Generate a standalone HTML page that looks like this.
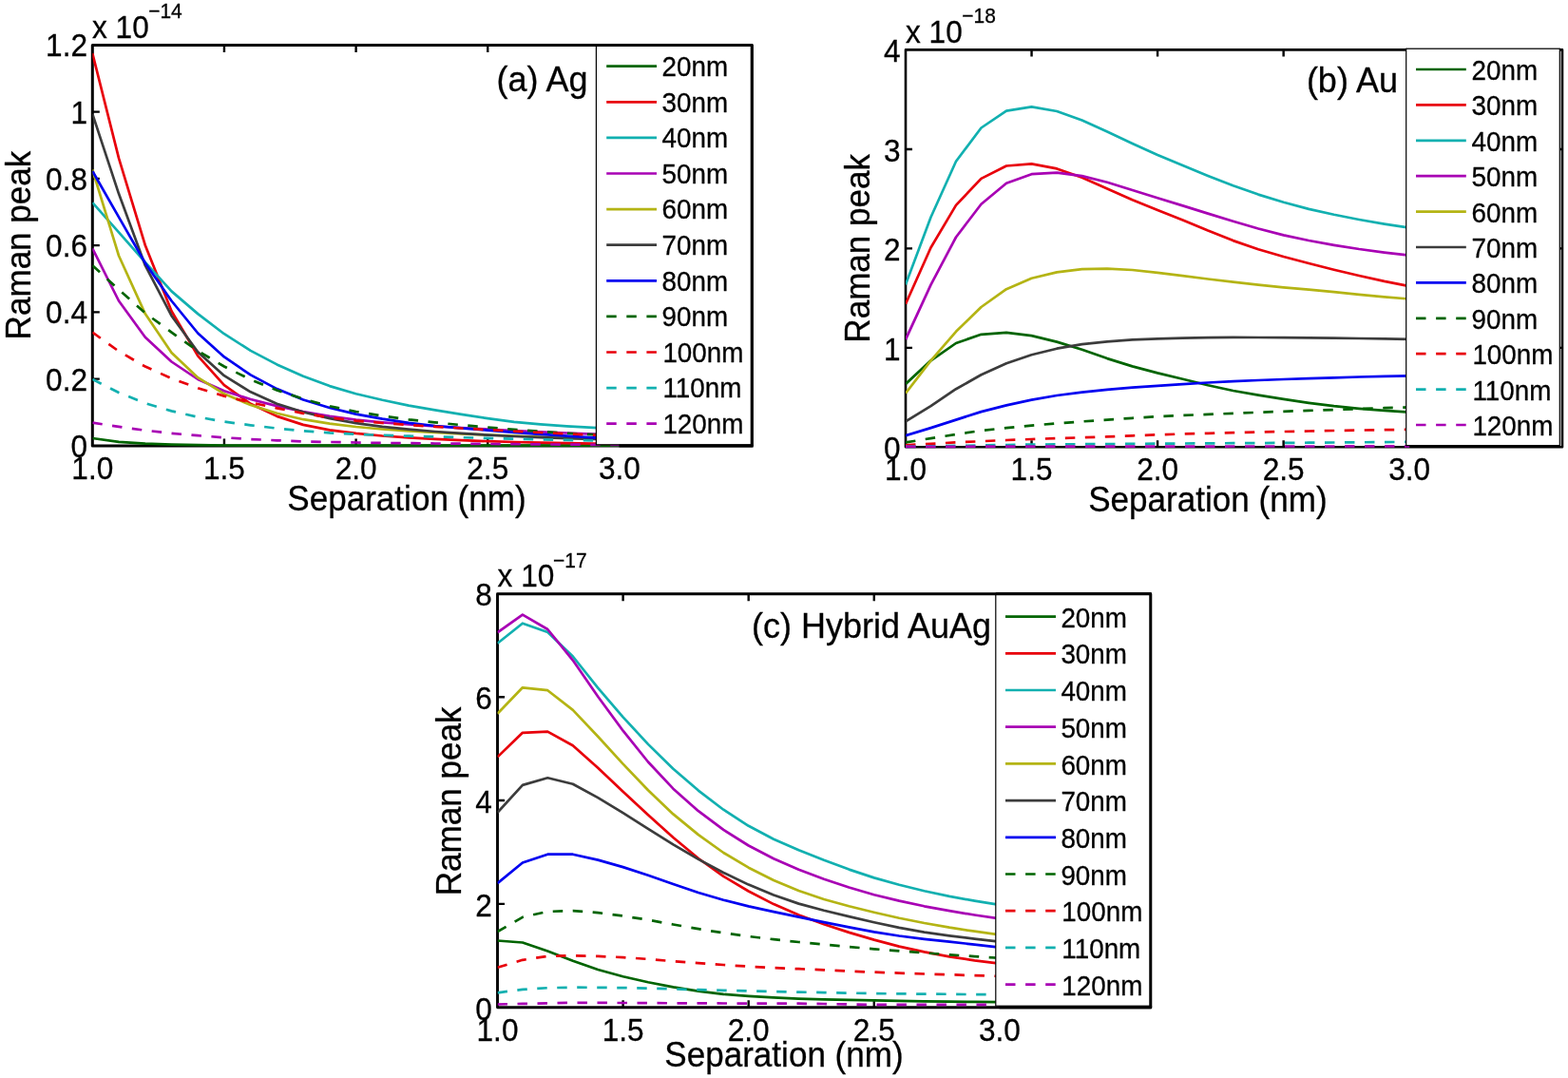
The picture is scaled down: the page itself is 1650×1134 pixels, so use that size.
<!DOCTYPE html>
<html lang="en">
<head>
<meta charset="utf-8">
<title>Raman peak vs separation</title>
<style>
html,body{margin:0;padding:0;background:#fff;}
body{width:1650px;height:1134px;overflow:hidden;}
svg{display:block;}
svg text{font-family:"Liberation Sans","DejaVu Sans",sans-serif;fill:#000;stroke:#000;stroke-width:0.3px;}
</style>
</head>
<body>
<svg width="1650" height="1134" viewBox="0 0 1650 1134">
<rect width="1650" height="1134" fill="#fff"/>
<clipPath id="clipa"><rect x="97.3" y="45.4" width="693.9000000000001" height="425.5"/></clipPath>
<rect x="97.3" y="47.4" width="693.90" height="421.50" fill="#fff" stroke="#000" stroke-width="3.0" stroke-linejoin="round"/>
<path d="M235.95 468.9v-7.5M235.95 47.4v7.5" stroke="#000" stroke-width="2.4" fill="none"/>
<path d="M374.60 468.9v-7.5M374.60 47.4v7.5" stroke="#000" stroke-width="2.4" fill="none"/>
<path d="M513.25 468.9v-7.5M513.25 47.4v7.5" stroke="#000" stroke-width="2.4" fill="none"/>
<path d="M651.90 468.9v-7.5M651.90 47.4v7.5" stroke="#000" stroke-width="2.4" fill="none"/>
<path d="M97.3 398.65h7.5M791.2 398.65h-7.5" stroke="#000" stroke-width="2.4" fill="none"/>
<path d="M97.3 328.40h7.5M791.2 328.40h-7.5" stroke="#000" stroke-width="2.4" fill="none"/>
<path d="M97.3 258.15h7.5M791.2 258.15h-7.5" stroke="#000" stroke-width="2.4" fill="none"/>
<path d="M97.3 187.90h7.5M791.2 187.90h-7.5" stroke="#000" stroke-width="2.4" fill="none"/>
<path d="M97.3 117.65h7.5M791.2 117.65h-7.5" stroke="#000" stroke-width="2.4" fill="none"/>
<g clip-path="url(#clipa)" fill="none" stroke-width="2.7" stroke-linejoin="round">
<polyline points="97.3,461.0 125.0,464.8 152.8,466.7 180.5,467.7 208.2,468.2 235.9,468.5 263.7,468.6 291.4,468.7 319.1,468.7 346.9,468.7 374.6,468.7 402.3,468.7 430.1,468.7 457.8,468.7 485.5,468.7 513.2,468.7 541.0,468.7 568.7,468.7 596.4,468.7 624.2,468.7 651.9,468.7" stroke="#006400"/>
<polyline points="97.3,56.1 125.0,166.4 152.8,258.0 180.5,327.3 208.2,374.3 235.9,405.1 263.7,424.8 291.4,437.9 319.1,446.9 346.9,452.3 374.6,455.9 402.3,458.5 430.1,460.4 457.8,461.9 485.5,463.2 513.2,464.2 541.0,465.0 568.7,465.6 596.4,466.2 624.2,466.7 651.9,467.0" stroke="#e8000b"/>
<polyline points="97.3,213.1 125.0,244.4 152.8,275.8 180.5,306.4 208.2,330.1 235.9,351.2 263.7,368.9 291.4,383.4 319.1,395.8 346.9,406.1 374.6,414.2 402.3,420.8 430.1,426.6 457.8,431.3 485.5,435.9 513.2,440.2 541.0,443.9 568.7,446.4 596.4,448.3 624.2,449.9 651.9,451.2" stroke="#12b0b0"/>
<polyline points="97.3,261.4 125.0,316.5 152.8,354.7 180.5,380.5 208.2,399.0 235.9,411.2 263.7,420.0 291.4,427.1 319.1,433.0 346.9,437.9 374.6,441.6 402.3,444.3 430.1,446.5 457.8,448.3 485.5,450.0 513.2,451.5 541.0,453.0 568.7,454.3 596.4,455.5 624.2,456.6 651.9,457.5" stroke="#a800b4"/>
<polyline points="97.3,178.5 125.0,269.0 152.8,330.1 180.5,371.0 208.2,397.2 235.9,414.3 263.7,426.0 291.4,434.8 319.1,441.2 346.9,445.7 374.6,449.0 402.3,451.5 430.1,453.4 457.8,455.0 485.5,456.3 513.2,457.5 541.0,458.5 568.7,459.5 596.4,460.3 624.2,461.0 651.9,461.6" stroke="#b4b414"/>
<polyline points="97.3,119.8 125.0,203.8 152.8,279.2 180.5,332.2 208.2,370.3 235.9,395.2 263.7,412.3 291.4,424.7 319.1,433.5 346.9,440.1 374.6,445.1 402.3,448.9 430.1,451.7 457.8,454.0 485.5,455.9 513.2,457.6 541.0,459.0 568.7,460.2 596.4,461.2 624.2,462.0 651.9,462.7" stroke="#3c3c3c"/>
<polyline points="97.3,180.0 125.0,228.4 152.8,276.7 180.5,316.5 208.2,350.5 235.9,375.4 263.7,394.4 291.4,409.1 319.1,420.5 346.9,429.0 374.6,435.6 402.3,440.7 430.1,444.9 457.8,448.0 485.5,450.4 513.2,452.7 541.0,454.8 568.7,456.8 596.4,458.7 624.2,460.3 651.9,461.6" stroke="#0000f0"/>
<polyline points="97.3,279.2 125.0,304.7 152.8,329.3 180.5,349.6 208.2,369.1 235.9,385.5 263.7,399.3 291.4,410.5 319.1,419.7 346.9,427.2 374.6,433.0 402.3,437.5 430.1,441.3 457.8,444.4 485.5,447.1 513.2,449.5 541.0,451.8 568.7,453.9 596.4,455.7 624.2,457.2 651.9,458.5" stroke="#006400" stroke-dasharray="10.5 10.5"/>
<polyline points="97.3,349.6 125.0,369.5 152.8,385.6 180.5,398.0 208.2,408.2 235.9,416.6 263.7,423.4 291.4,429.4 319.1,434.8 346.9,439.3 374.6,442.6 402.3,445.0 430.1,447.1 457.8,448.8 485.5,450.5 513.2,452.1 541.0,453.6 568.7,455.0 596.4,456.4 624.2,457.7 651.9,458.9" stroke="#e8000b" stroke-dasharray="10.5 10.5"/>
<polyline points="97.3,399.0 125.0,413.0 152.8,424.1 180.5,432.4 208.2,438.7 235.9,443.6 263.7,447.3 291.4,450.6 319.1,453.3 346.9,455.4 374.6,456.8 402.3,457.8 430.1,458.7 457.8,459.4 485.5,460.2 513.2,460.9 541.0,461.7 568.7,462.3 596.4,462.9 624.2,463.5 651.9,464.0" stroke="#12b0b0" stroke-dasharray="10.5 10.5"/>
<polyline points="97.3,444.6 125.0,448.9 152.8,452.7 180.5,455.9 208.2,458.2 235.9,460.3 263.7,462.0 291.4,463.3 319.1,464.4 346.9,465.0 374.6,465.5 402.3,465.9 430.1,466.2 457.8,466.5 485.5,466.7 513.2,467.0 541.0,467.2 568.7,467.4 596.4,467.6 624.2,467.8 651.9,468.0" stroke="#a800b4" stroke-dasharray="10.5 10.5"/>
</g>
<rect x="627.4" y="47.4" width="163.80" height="420.40" fill="#fff" stroke="#000" stroke-width="1.2"/>
<path d="M627.4 47.4H791.2V468.9" stroke="#000" stroke-width="3.0" fill="none" stroke-linejoin="round"/>
<path d="M653 468.9H791.2" stroke="#000" stroke-width="3.0" fill="none" stroke-linecap="square"/>
<path d="M638.2 69.70H691" stroke="#006400" stroke-width="2.7" fill="none"/>
<text transform="translate(696.50 79.90) scale(0.9400 1)" font-size="29.6">20nm</text>
<path d="M638.2 107.30H691" stroke="#e8000b" stroke-width="2.7" fill="none"/>
<text transform="translate(696.50 117.50) scale(0.9400 1)" font-size="29.6">30nm</text>
<path d="M638.2 144.90H691" stroke="#12b0b0" stroke-width="2.7" fill="none"/>
<text transform="translate(696.50 155.10) scale(0.9400 1)" font-size="29.6">40nm</text>
<path d="M638.2 182.50H691" stroke="#a800b4" stroke-width="2.7" fill="none"/>
<text transform="translate(696.50 192.70) scale(0.9400 1)" font-size="29.6">50nm</text>
<path d="M638.2 220.10H691" stroke="#b4b414" stroke-width="2.7" fill="none"/>
<text transform="translate(696.50 230.30) scale(0.9400 1)" font-size="29.6">60nm</text>
<path d="M638.2 257.70H691" stroke="#3c3c3c" stroke-width="2.7" fill="none"/>
<text transform="translate(696.50 267.90) scale(0.9400 1)" font-size="29.6">70nm</text>
<path d="M638.2 295.30H691" stroke="#0000f0" stroke-width="2.7" fill="none"/>
<text transform="translate(696.50 305.50) scale(0.9400 1)" font-size="29.6">80nm</text>
<path d="M638.2 332.90H691" stroke="#006400" stroke-width="2.7" stroke-dasharray="10.5 10.6" fill="none"/>
<text transform="translate(696.50 343.10) scale(0.9400 1)" font-size="29.6">90nm</text>
<path d="M638.2 370.50H691" stroke="#e8000b" stroke-width="2.7" stroke-dasharray="10.5 10.6" fill="none"/>
<text transform="translate(697.40 380.70) scale(0.9400 1)" font-size="29.6">100nm</text>
<path d="M638.2 408.10H691" stroke="#12b0b0" stroke-width="2.7" stroke-dasharray="10.5 10.6" fill="none"/>
<text transform="translate(697.40 418.30) scale(0.9400 1)" font-size="29.6">110nm</text>
<path d="M638.2 445.70H691" stroke="#a800b4" stroke-width="2.7" stroke-dasharray="10.5 10.6" fill="none"/>
<text transform="translate(697.40 455.90) scale(0.9400 1)" font-size="29.6">120nm</text>
<text transform="translate(97.30 504.30) scale(0.9350 1)" font-size="33.8" text-anchor="middle">1.0</text>
<text transform="translate(235.95 504.30) scale(0.9350 1)" font-size="33.8" text-anchor="middle">1.5</text>
<text transform="translate(374.60 504.30) scale(0.9350 1)" font-size="33.8" text-anchor="middle">2.0</text>
<text transform="translate(513.25 504.30) scale(0.9350 1)" font-size="33.8" text-anchor="middle">2.5</text>
<text transform="translate(651.90 504.30) scale(0.9350 1)" font-size="33.8" text-anchor="middle">3.0</text>
<text transform="translate(92.00 480.90) scale(0.9350 1)" font-size="33.8" text-anchor="end">0</text>
<text transform="translate(92.00 410.65) scale(0.9350 1)" font-size="33.8" text-anchor="end">0.2</text>
<text transform="translate(92.00 340.40) scale(0.9350 1)" font-size="33.8" text-anchor="end">0.4</text>
<text transform="translate(92.00 270.15) scale(0.9350 1)" font-size="33.8" text-anchor="end">0.6</text>
<text transform="translate(92.00 199.90) scale(0.9350 1)" font-size="33.8" text-anchor="end">0.8</text>
<text transform="translate(92.00 129.65) scale(0.9350 1)" font-size="33.8" text-anchor="end">1</text>
<text transform="translate(92.00 59.40) scale(0.9350 1)" font-size="33.8" text-anchor="end">1.2</text>
<text transform="translate(97.00 39.50) scale(0.9350 1)" font-size="33.8">x 10</text>
<text transform="translate(156.20 19.40) scale(0.9400 1)" font-size="22.3">−14</text>
<text transform="translate(428.00 537.30) scale(0.9400 1)" font-size="37.3" text-anchor="middle">Separation (nm)</text>
<text transform="translate(32.30 258.00) rotate(-90) scale(0.9580 1)" font-size="36.6" text-anchor="middle">Raman peak</text>
<text transform="translate(618.50 96.00) scale(0.9650 1)" font-size="37.3" text-anchor="end">(a) Ag</text>
<clipPath id="clipb"><rect x="953.0" y="50.4" width="691.0" height="421.90000000000003"/></clipPath>
<rect x="953.0" y="52.4" width="691.00" height="417.90" fill="#fff" stroke="#000" stroke-width="2.6" stroke-linejoin="round"/>
<path d="M1085.55 470.3v-7.0M1085.55 52.4v7.0" stroke="#000" stroke-width="2.4" fill="none"/>
<path d="M1218.10 470.3v-7.0M1218.10 52.4v7.0" stroke="#000" stroke-width="2.4" fill="none"/>
<path d="M1350.65 470.3v-7.0M1350.65 52.4v7.0" stroke="#000" stroke-width="2.4" fill="none"/>
<path d="M1483.20 470.3v-7.0M1483.20 52.4v7.0" stroke="#000" stroke-width="2.4" fill="none"/>
<path d="M953.0 365.85h7.0M1644.0 365.85h-7.0" stroke="#000" stroke-width="2.4" fill="none"/>
<path d="M953.0 261.40h7.0M1644.0 261.40h-7.0" stroke="#000" stroke-width="2.4" fill="none"/>
<path d="M953.0 156.95h7.0M1644.0 156.95h-7.0" stroke="#000" stroke-width="2.4" fill="none"/>
<g clip-path="url(#clipb)" fill="none" stroke-width="2.7" stroke-linejoin="round">
<polyline points="953.0,403.9 979.5,379.3 1006.0,361.0 1032.5,351.8 1059.0,349.8 1085.5,353.1 1112.1,359.6 1138.6,367.8 1165.1,377.1 1191.6,385.4 1218.1,392.4 1244.6,398.7 1271.1,405.2 1297.6,411.0 1324.1,415.7 1350.7,419.9 1377.2,423.8 1403.7,427.2 1430.2,429.8 1456.7,431.9 1483.2,433.7" stroke="#006400"/>
<polyline points="953.0,319.7 979.5,260.5 1006.0,215.9 1032.5,187.9 1059.0,174.5 1085.5,172.4 1112.1,177.4 1138.6,186.8 1165.1,198.5 1191.6,210.2 1218.1,220.9 1244.6,231.4 1271.1,242.6 1297.6,253.1 1324.1,262.2 1350.7,270.0 1377.2,277.0 1403.7,283.7 1430.2,290.0 1456.7,295.9 1483.2,301.1" stroke="#e8000b"/>
<polyline points="953.0,299.4 979.5,228.5 1006.0,169.8 1032.5,134.5 1059.0,116.6 1085.5,112.4 1112.1,117.0 1138.6,126.5 1165.1,138.4 1191.6,151.0 1218.1,162.9 1244.6,174.1 1271.1,184.9 1297.6,195.2 1324.1,204.6 1350.7,212.8 1377.2,219.9 1403.7,225.8 1430.2,231.0 1456.7,235.6 1483.2,239.6" stroke="#12b0b0"/>
<polyline points="953.0,357.1 979.5,299.6 1006.0,249.5 1032.5,214.7 1059.0,192.7 1085.5,183.2 1112.1,181.7 1138.6,185.1 1165.1,191.8 1191.6,200.0 1218.1,208.3 1244.6,216.4 1271.1,224.6 1297.6,232.8 1324.1,240.5 1350.7,247.4 1377.2,253.0 1403.7,257.8 1430.2,262.0 1456.7,265.6 1483.2,268.7" stroke="#a800b4"/>
<polyline points="953.0,413.6 979.5,379.3 1006.0,348.8 1032.5,323.0 1059.0,304.2 1085.5,292.7 1112.1,286.4 1138.6,283.2 1165.1,282.7 1191.6,284.0 1218.1,286.9 1244.6,290.2 1271.1,293.5 1297.6,296.6 1324.1,299.7 1350.7,302.3 1377.2,304.6 1403.7,307.1 1430.2,309.8 1456.7,312.3 1483.2,314.5" stroke="#b4b414"/>
<polyline points="953.0,443.3 979.5,427.2 1006.0,409.2 1032.5,394.3 1059.0,382.2 1085.5,373.2 1112.1,366.7 1138.6,362.2 1165.1,359.3 1191.6,357.4 1218.1,356.4 1244.6,355.7 1271.1,355.2 1297.6,354.9 1324.1,355.0 1350.7,355.2 1377.2,355.4 1403.7,355.7 1430.2,356.0 1456.7,356.4 1483.2,356.9" stroke="#3c3c3c"/>
<polyline points="953.0,458.1 979.5,450.1 1006.0,441.6 1032.5,433.1 1059.0,426.4 1085.5,420.6 1112.1,416.0 1138.6,412.6 1165.1,409.9 1191.6,407.6 1218.1,405.8 1244.6,404.1 1271.1,402.5 1297.6,401.2 1324.1,400.0 1350.7,399.0 1377.2,398.1 1403.7,397.3 1430.2,396.5 1456.7,395.9 1483.2,395.3" stroke="#0000f0"/>
<polyline points="953.0,465.4 979.5,461.1 1006.0,456.9 1032.5,453.0 1059.0,450.1 1085.5,447.6 1112.1,445.4 1138.6,443.4 1165.1,441.6 1191.6,439.8 1218.1,438.2 1244.6,436.9 1271.1,435.9 1297.6,434.8 1324.1,433.8 1350.7,432.8 1377.2,431.9 1403.7,431.0 1430.2,430.1 1456.7,429.2 1483.2,428.4" stroke="#006400" stroke-dasharray="10.5 10.5"/>
<polyline points="953.0,468.3 979.5,466.8 1006.0,465.4 1032.5,464.2 1059.0,463.0 1085.5,462.0 1112.1,461.1 1138.6,460.3 1165.1,459.4 1191.6,458.3 1218.1,457.3 1244.6,456.5 1271.1,455.8 1297.6,455.2 1324.1,454.6 1350.7,454.0 1377.2,453.5 1403.7,453.0 1430.2,452.6 1456.7,452.2 1483.2,451.8" stroke="#e8000b" stroke-dasharray="10.5 10.5"/>
<polyline points="953.0,469.8 979.5,469.4 1006.0,468.9 1032.5,468.5 1059.0,468.0 1085.5,467.6 1112.1,467.4 1138.6,467.2 1165.1,467.1 1191.6,466.9 1218.1,466.7 1244.6,466.5 1271.1,466.4 1297.6,466.2 1324.1,466.1 1350.7,465.9 1377.2,465.7 1403.7,465.5 1430.2,465.3 1456.7,465.1 1483.2,464.9" stroke="#12b0b0" stroke-dasharray="10.5 10.5"/>
<polyline points="953.0,469.8 979.5,469.8 1006.0,469.8 1032.5,469.7 1059.0,469.7 1085.5,469.7 1112.1,469.7 1138.6,469.7 1165.1,469.6 1191.6,469.6 1218.1,469.6 1244.6,469.6 1271.1,469.6 1297.6,469.5 1324.1,469.5 1350.7,469.5 1377.2,469.5 1403.7,469.5 1430.2,469.4 1456.7,469.4 1483.2,469.4" stroke="#a800b4" stroke-dasharray="10.5 10.5"/>
</g>
<rect x="1479.7" y="51.2" width="161.60" height="417.40" fill="#fff" stroke="#000" stroke-width="1.2"/>
<path d="M1490 73.00H1542.8" stroke="#006400" stroke-width="2.7" fill="none"/>
<text transform="translate(1548.50 84.00) scale(0.9400 1)" font-size="29.6">20nm</text>
<path d="M1490 110.40H1542.8" stroke="#e8000b" stroke-width="2.7" fill="none"/>
<text transform="translate(1548.50 121.40) scale(0.9400 1)" font-size="29.6">30nm</text>
<path d="M1490 147.80H1542.8" stroke="#12b0b0" stroke-width="2.7" fill="none"/>
<text transform="translate(1548.50 158.80) scale(0.9400 1)" font-size="29.6">40nm</text>
<path d="M1490 185.20H1542.8" stroke="#a800b4" stroke-width="2.7" fill="none"/>
<text transform="translate(1548.50 196.20) scale(0.9400 1)" font-size="29.6">50nm</text>
<path d="M1490 222.60H1542.8" stroke="#b4b414" stroke-width="2.7" fill="none"/>
<text transform="translate(1548.50 233.60) scale(0.9400 1)" font-size="29.6">60nm</text>
<path d="M1490 260.00H1542.8" stroke="#3c3c3c" stroke-width="2.7" fill="none"/>
<text transform="translate(1548.50 271.00) scale(0.9400 1)" font-size="29.6">70nm</text>
<path d="M1490 297.40H1542.8" stroke="#0000f0" stroke-width="2.7" fill="none"/>
<text transform="translate(1548.50 308.40) scale(0.9400 1)" font-size="29.6">80nm</text>
<path d="M1490 334.80H1542.8" stroke="#006400" stroke-width="2.7" stroke-dasharray="10.5 10.6" fill="none"/>
<text transform="translate(1548.50 345.80) scale(0.9400 1)" font-size="29.6">90nm</text>
<path d="M1490 372.20H1542.8" stroke="#e8000b" stroke-width="2.7" stroke-dasharray="10.5 10.6" fill="none"/>
<text transform="translate(1549.40 383.20) scale(0.9400 1)" font-size="29.6">100nm</text>
<path d="M1490 409.60H1542.8" stroke="#12b0b0" stroke-width="2.7" stroke-dasharray="10.5 10.6" fill="none"/>
<text transform="translate(1549.40 420.60) scale(0.9400 1)" font-size="29.6">110nm</text>
<path d="M1490 447.00H1542.8" stroke="#a800b4" stroke-width="2.7" stroke-dasharray="10.5 10.6" fill="none"/>
<text transform="translate(1549.40 458.00) scale(0.9400 1)" font-size="29.6">120nm</text>
<text transform="translate(953.00 505.20) scale(0.9350 1)" font-size="33.8" text-anchor="middle">1.0</text>
<text transform="translate(1085.55 505.20) scale(0.9350 1)" font-size="33.8" text-anchor="middle">1.5</text>
<text transform="translate(1218.10 505.20) scale(0.9350 1)" font-size="33.8" text-anchor="middle">2.0</text>
<text transform="translate(1350.65 505.20) scale(0.9350 1)" font-size="33.8" text-anchor="middle">2.5</text>
<text transform="translate(1483.20 505.20) scale(0.9350 1)" font-size="33.8" text-anchor="middle">3.0</text>
<text transform="translate(947.70 483.10) scale(0.9350 1)" font-size="33.8" text-anchor="end">0</text>
<text transform="translate(947.70 378.65) scale(0.9350 1)" font-size="33.8" text-anchor="end">1</text>
<text transform="translate(947.70 274.20) scale(0.9350 1)" font-size="33.8" text-anchor="end">2</text>
<text transform="translate(947.70 169.75) scale(0.9350 1)" font-size="33.8" text-anchor="end">3</text>
<text transform="translate(947.70 65.30) scale(0.9350 1)" font-size="33.8" text-anchor="end">4</text>
<text transform="translate(953.00 45.20) scale(0.9350 1)" font-size="33.8">x 10</text>
<text transform="translate(1012.30 24.20) scale(0.9400 1)" font-size="22.3">−18</text>
<text transform="translate(1270.90 537.50) scale(0.9400 1)" font-size="37.3" text-anchor="middle">Separation (nm)</text>
<text transform="translate(915.00 261.30) rotate(-90) scale(0.9580 1)" font-size="36.6" text-anchor="middle">Raman peak</text>
<text transform="translate(1470.90 96.60) scale(0.9650 1)" font-size="37.3" text-anchor="end">(b) Au</text>
<clipPath id="clipc"><rect x="523.5" y="622.8" width="687.2" height="438.9000000000001"/></clipPath>
<rect x="523.5" y="624.8" width="687.20" height="434.90" fill="#fff" stroke="#000" stroke-width="2.9" stroke-linejoin="round"/>
<path d="M655.60 1059.7v-7.5M655.60 624.8v7.5" stroke="#000" stroke-width="2.4" fill="none"/>
<path d="M787.70 1059.7v-7.5M787.70 624.8v7.5" stroke="#000" stroke-width="2.4" fill="none"/>
<path d="M919.80 1059.7v-7.5M919.80 624.8v7.5" stroke="#000" stroke-width="2.4" fill="none"/>
<path d="M1051.90 1059.7v-7.5M1051.90 624.8v7.5" stroke="#000" stroke-width="2.4" fill="none"/>
<path d="M523.5 950.86h7.5M1210.7 950.86h-7.5" stroke="#000" stroke-width="2.4" fill="none"/>
<path d="M523.5 842.02h7.5M1210.7 842.02h-7.5" stroke="#000" stroke-width="2.4" fill="none"/>
<path d="M523.5 733.18h7.5M1210.7 733.18h-7.5" stroke="#000" stroke-width="2.4" fill="none"/>
<g clip-path="url(#clipc)" fill="none" stroke-width="2.7" stroke-linejoin="round">
<polyline points="523.5,989.5 549.9,991.5 576.3,1000.5 602.8,1010.7 629.2,1020.0 655.6,1027.2 682.0,1033.2 708.4,1038.4 734.9,1042.6 761.3,1045.8 787.7,1047.8 814.1,1049.4 840.5,1050.6 867.0,1051.3 893.4,1051.9 919.8,1052.4 946.2,1052.9 972.6,1053.3 999.1,1053.6 1025.5,1053.9 1051.9,1054.2" stroke="#006400"/>
<polyline points="523.5,796.3 549.9,770.8 576.3,769.6 602.8,784.3 629.2,807.8 655.6,832.8 682.0,857.2 708.4,881.0 734.9,903.0 761.3,921.8 787.7,937.5 814.1,951.1 840.5,962.6 867.0,972.3 893.4,980.9 919.8,988.6 946.2,995.6 972.6,1001.4 999.1,1006.3 1025.5,1010.3 1051.9,1013.7" stroke="#e8000b"/>
<polyline points="523.5,676.8 549.9,655.7 576.3,665.0 602.8,690.5 629.2,723.6 655.6,754.3 682.0,782.9 708.4,808.7 734.9,831.6 761.3,851.7 787.7,868.8 814.1,882.7 840.5,894.2 867.0,904.8 893.4,914.6 919.8,923.4 946.2,930.8 972.6,937.3 999.1,942.9 1025.5,947.7 1051.9,951.9" stroke="#12b0b0"/>
<polyline points="523.5,665.3 549.9,646.7 576.3,662.0 602.8,694.6 629.2,732.8 655.6,768.7 682.0,801.5 708.4,829.7 734.9,853.2 761.3,872.9 787.7,889.5 814.1,903.3 840.5,914.8 867.0,924.7 893.4,933.5 919.8,941.2 946.2,947.6 972.6,953.3 999.1,958.2 1025.5,962.5 1051.9,966.3" stroke="#a800b4"/>
<polyline points="523.5,750.8 549.9,723.3 576.3,726.2 602.8,746.9 629.2,774.7 655.6,803.6 682.0,831.2 708.4,856.4 734.9,878.1 761.3,897.0 787.7,912.7 814.1,926.0 840.5,937.0 867.0,946.0 893.4,953.2 919.8,959.7 946.2,965.7 972.6,971.0 999.1,975.7 1025.5,979.7 1051.9,983.3" stroke="#b4b414"/>
<polyline points="523.5,854.8 549.9,825.9 576.3,818.3 602.8,824.7 629.2,839.1 655.6,855.2 682.0,871.8 708.4,888.3 734.9,903.9 761.3,918.0 787.7,930.6 814.1,941.5 840.5,950.6 867.0,957.8 893.4,964.1 919.8,970.2 946.2,975.9 972.6,980.6 999.1,984.3 1025.5,987.6 1051.9,990.7" stroke="#3c3c3c"/>
<polyline points="523.5,929.2 549.9,907.5 576.3,898.7 602.8,898.7 629.2,904.6 655.6,912.1 682.0,920.8 708.4,930.0 734.9,939.0 761.3,946.8 787.7,953.4 814.1,959.1 840.5,964.6 867.0,970.1 893.4,975.4 919.8,980.4 946.2,984.5 972.6,987.8 999.1,990.6 1025.5,993.6 1051.9,996.6" stroke="#0000f0"/>
<polyline points="523.5,980.1 549.9,964.8 576.3,958.9 602.8,958.1 629.2,960.1 655.6,963.5 682.0,967.7 708.4,972.5 734.9,977.2 761.3,981.4 787.7,985.0 814.1,988.2 840.5,991.0 867.0,993.6 893.4,996.0 919.8,998.3 946.2,1000.4 972.6,1002.4 999.1,1004.3 1025.5,1006.1 1051.9,1007.8" stroke="#006400" stroke-dasharray="10.5 10.5"/>
<polyline points="523.5,1017.8 549.9,1009.8 576.3,1005.9 602.8,1005.2 629.2,1005.9 655.6,1007.1 682.0,1008.9 708.4,1011.2 734.9,1013.1 761.3,1015.0 787.7,1016.7 814.1,1018.1 840.5,1019.2 867.0,1020.4 893.4,1021.6 919.8,1022.7 946.2,1023.6 972.6,1024.5 999.1,1025.3 1025.5,1026.1 1051.9,1026.9" stroke="#e8000b" stroke-dasharray="10.5 10.5"/>
<polyline points="523.5,1044.3 549.9,1040.9 576.3,1039.2 602.8,1038.7 629.2,1038.8 655.6,1039.1 682.0,1039.7 708.4,1040.4 734.9,1041.1 761.3,1041.8 787.7,1042.5 814.1,1043.1 840.5,1043.6 867.0,1044.1 893.4,1044.6 919.8,1045.1 946.2,1045.4 972.6,1045.6 999.1,1045.8 1025.5,1046.1 1051.9,1046.3" stroke="#12b0b0" stroke-dasharray="10.5 10.5"/>
<polyline points="523.5,1056.5 549.9,1055.9 576.3,1055.4 602.8,1054.8 629.2,1054.9 655.6,1055.0 682.0,1055.1 708.4,1055.3 734.9,1055.4 761.3,1055.5 787.7,1055.6 814.1,1055.7 840.5,1055.7 867.0,1056.0 893.4,1056.5 919.8,1056.9 946.2,1056.8 972.6,1056.9 999.1,1056.9 1025.5,1056.9 1051.9,1056.9" stroke="#a800b4" stroke-dasharray="10.5 10.5"/>
</g>
<rect x="1047.8" y="624.8" width="162.90" height="433.40" fill="#fff" stroke="#000" stroke-width="1.2"/>
<path d="M1047.8 624.8H1210.7V1059.7" stroke="#000" stroke-width="2.9" fill="none" stroke-linejoin="round"/>
<path d="M1053 1059.7H1210.7" stroke="#000" stroke-width="2.9" fill="none" stroke-linecap="square"/>
<path d="M1058 648.60H1111" stroke="#006400" stroke-width="2.7" fill="none"/>
<text transform="translate(1116.40 659.70) scale(0.9400 1)" font-size="29.6">20nm</text>
<path d="M1058 687.30H1111" stroke="#e8000b" stroke-width="2.7" fill="none"/>
<text transform="translate(1116.40 698.40) scale(0.9400 1)" font-size="29.6">30nm</text>
<path d="M1058 726.00H1111" stroke="#12b0b0" stroke-width="2.7" fill="none"/>
<text transform="translate(1116.40 737.10) scale(0.9400 1)" font-size="29.6">40nm</text>
<path d="M1058 764.70H1111" stroke="#a800b4" stroke-width="2.7" fill="none"/>
<text transform="translate(1116.40 775.80) scale(0.9400 1)" font-size="29.6">50nm</text>
<path d="M1058 803.40H1111" stroke="#b4b414" stroke-width="2.7" fill="none"/>
<text transform="translate(1116.40 814.50) scale(0.9400 1)" font-size="29.6">60nm</text>
<path d="M1058 842.10H1111" stroke="#3c3c3c" stroke-width="2.7" fill="none"/>
<text transform="translate(1116.40 853.20) scale(0.9400 1)" font-size="29.6">70nm</text>
<path d="M1058 880.80H1111" stroke="#0000f0" stroke-width="2.7" fill="none"/>
<text transform="translate(1116.40 891.90) scale(0.9400 1)" font-size="29.6">80nm</text>
<path d="M1058 919.50H1111" stroke="#006400" stroke-width="2.7" stroke-dasharray="10.5 10.6" fill="none"/>
<text transform="translate(1116.40 930.60) scale(0.9400 1)" font-size="29.6">90nm</text>
<path d="M1058 958.20H1111" stroke="#e8000b" stroke-width="2.7" stroke-dasharray="10.5 10.6" fill="none"/>
<text transform="translate(1117.30 969.30) scale(0.9400 1)" font-size="29.6">100nm</text>
<path d="M1058 996.90H1111" stroke="#12b0b0" stroke-width="2.7" stroke-dasharray="10.5 10.6" fill="none"/>
<text transform="translate(1117.30 1008.00) scale(0.9400 1)" font-size="29.6">110nm</text>
<path d="M1058 1035.60H1111" stroke="#a800b4" stroke-width="2.7" stroke-dasharray="10.5 10.6" fill="none"/>
<text transform="translate(1117.30 1046.70) scale(0.9400 1)" font-size="29.6">120nm</text>
<text transform="translate(523.50 1094.60) scale(0.9350 1)" font-size="33.8" text-anchor="middle">1.0</text>
<text transform="translate(655.60 1094.60) scale(0.9350 1)" font-size="33.8" text-anchor="middle">1.5</text>
<text transform="translate(787.70 1094.60) scale(0.9350 1)" font-size="33.8" text-anchor="middle">2.0</text>
<text transform="translate(919.80 1094.60) scale(0.9350 1)" font-size="33.8" text-anchor="middle">2.5</text>
<text transform="translate(1051.90 1094.60) scale(0.9350 1)" font-size="33.8" text-anchor="middle">3.0</text>
<text transform="translate(517.80 1072.70) scale(0.9350 1)" font-size="33.8" text-anchor="end">0</text>
<text transform="translate(517.80 963.86) scale(0.9350 1)" font-size="33.8" text-anchor="end">2</text>
<text transform="translate(517.80 855.02) scale(0.9350 1)" font-size="33.8" text-anchor="end">4</text>
<text transform="translate(517.80 746.18) scale(0.9350 1)" font-size="33.8" text-anchor="end">6</text>
<text transform="translate(517.80 637.34) scale(0.9350 1)" font-size="33.8" text-anchor="end">8</text>
<text transform="translate(523.60 617.10) scale(0.9350 1)" font-size="33.8">x 10</text>
<text transform="translate(582.00 597.00) scale(0.9400 1)" font-size="22.3">−17</text>
<text transform="translate(825.00 1122.00) scale(0.9400 1)" font-size="37.3" text-anchor="middle">Separation (nm)</text>
<text transform="translate(485.00 842.90) rotate(-90) scale(0.9580 1)" font-size="36.6" text-anchor="middle">Raman peak</text>
<text transform="translate(1043.00 671.00) scale(0.9650 1)" font-size="37.3" text-anchor="end">(c) Hybrid AuAg</text>
</svg>
</body>
</html>
